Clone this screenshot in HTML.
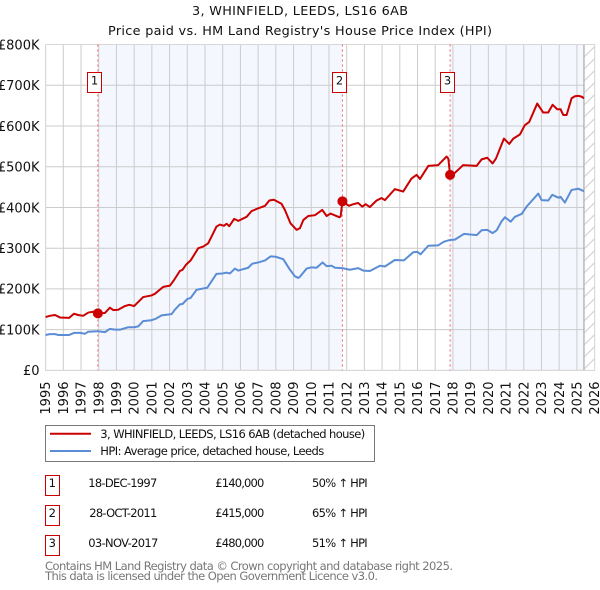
<!DOCTYPE html>
<html lang="en">
<head>
<meta charset="utf-8">
<title>3, WHINFIELD, LEEDS, LS16 6AB</title>
<style>
html,body{margin:0;padding:0;background:#fff;width:600px;height:590px;overflow:hidden}
svg{display:block}
text{font-family:"DejaVu Sans","Liberation Sans",sans-serif;fill:#111}
</style>
</head>
<body>
<svg id="chart" xmlns="http://www.w3.org/2000/svg" width="600" height="590" viewBox="0 0 600 590">
  <defs>
    <pattern id="hatch" patternUnits="userSpaceOnUse" width="12" height="12" x="584.7" y="44.5">
      <line x1="0" y1="12" x2="12" y2="0" stroke="#ccc" stroke-width="1"/>
    </pattern>
  </defs>
  <text x="300" y="15" text-anchor="middle" font-size="12.8" textLength="216" lengthAdjust="spacing">3, WHINFIELD, LEEDS, LS16 6AB</text>
  <text x="300" y="35" text-anchor="middle" font-size="12.8" textLength="384" lengthAdjust="spacing">Price paid vs. HM Land Registry's House Price Index (HPI)</text>
  <g id="bands"></g>
  <g id="grid"></g>
  <g id="forecast"></g>
  <g id="series"></g>
  <g id="sales"></g>
  <g id="ticks"></g>

  <g>
    <rect x="45.5" y="425.5" width="329" height="36" fill="#fff" stroke="#777" stroke-width="1"/>
    <line x1="50" y1="433.7" x2="91" y2="433.7" stroke="#cc0000" stroke-width="2"/>
    <text x="100.3" y="438" font-size="11.5" textLength="265" lengthAdjust="spacing">3, WHINFIELD, LEEDS, LS16 6AB (detached house)</text>
    <line x1="50" y1="451" x2="91" y2="451" stroke="#5b8dd6" stroke-width="2"/>
    <text x="100.3" y="455" font-size="11.5" textLength="224" lengthAdjust="spacing">HPI: Average price, detached house, Leeds</text>
  </g>

  <g>
    <rect x="45.5" y="475.5" width="14" height="20" fill="#fff" stroke="#cc0000"/>
    <text x="52.3" y="487" font-size="11.5" text-anchor="middle">1</text>
    <text x="88.3" y="487" font-size="11.5" textLength="69" lengthAdjust="spacing">18-DEC-1997</text>
    <text x="215.3" y="487" font-size="11.5" textLength="49" lengthAdjust="spacing">£140,000</text>
    <text x="312" y="487" font-size="11.5" textLength="55.7" lengthAdjust="spacing">50% ↑ HPI</text>

    <rect x="45.5" y="505.5" width="14" height="20" fill="#fff" stroke="#cc0000"/>
    <text x="52.3" y="517" font-size="11.5" text-anchor="middle">2</text>
    <text x="89.3" y="517" font-size="11.5" textLength="68" lengthAdjust="spacing">28-OCT-2011</text>
    <text x="215.3" y="517" font-size="11.5" textLength="49" lengthAdjust="spacing">£415,000</text>
    <text x="312" y="517" font-size="11.5" textLength="55.7" lengthAdjust="spacing">65% ↑ HPI</text>

    <rect x="45.5" y="535.5" width="14" height="20" fill="#fff" stroke="#cc0000"/>
    <text x="52.3" y="547" font-size="11.5" text-anchor="middle">3</text>
    <text x="88.3" y="547" font-size="11.5" textLength="70" lengthAdjust="spacing">03-NOV-2017</text>
    <text x="215.3" y="547" font-size="11.5" textLength="49" lengthAdjust="spacing">£480,000</text>
    <text x="312" y="547" font-size="11.5" textLength="55.7" lengthAdjust="spacing">51% ↑ HPI</text>
  </g>

  <text x="45" y="570" font-size="11.5" style="fill:#777" textLength="408" lengthAdjust="spacing">Contains HM Land Registry data © Crown copyright and database right 2025.</text>
  <text x="45" y="580" font-size="11.5" style="fill:#777" textLength="333" lengthAdjust="spacing">This data is licensed under the Open Government Licence v3.0.</text>
</svg>
<script>
const yearTicks = [1995,1996,1997,1998,1999,2000,2001,2002,2003,2004,2005,2006,2007,2008,2009,2010,2011,2012,2013,2014,2015,2016,2017,2018,2019,2020,2021,2022,2023,2024,2025,2026];
const priceTicks = [0,100,200,300,400,500,600,700,800];
const priceTickLabels = ["£0","£100K","£200K","£300K","£400K","£500K","£600K","£700K","£800K"];
const saleNumbers = ["1","2","3"];
const saleYears = [1997.95,2011.76,2017.84];
const salePrices = [140,415,480];
const lastDataYear = 2025.4;

const propertyYears = [1995,1995.24,1995.53,1995.81,1996.33,1996.6,1996.84,1997.12,1997.41,1997.69,1997.96,1998.35,1998.63,1998.82,1999.1,1999.48,1999.72,2000,2000.51,2000.98,2001.17,2001.64,2002.02,2002.24,2002.58,2002.73,2002.92,2003.19,2003.62,2003.9,2004.18,2004.65,2004.84,2005.07,2005.22,2005.37,2005.65,2005.88,2006.35,2006.63,2007.01,2007.39,2007.63,2007.89,2008.32,2008.51,2008.83,2009.17,2009.36,2009.55,2009.83,2010.21,2010.62,2010.87,2011.09,2011.58,2011.66,2011.76,2012.13,2012.37,2012.65,2012.88,2013.07,2013.31,2013.69,2013.97,2014.16,2014.72,2015.19,2015.66,2015.95,2016.14,2016.61,2017.17,2017.64,2017.74,2017.84,2018.11,2018.58,2019.34,2019.62,2019.94,2020.24,2020.43,2020.88,2021.18,2021.41,2021.78,2022.06,2022.31,2022.76,2023.1,2023.38,2023.63,2023.89,2024.08,2024.23,2024.42,2024.7,2024.89,2025.08,2025.26,2025.4];
const propertyValues = [131,134,136,130,129,139,136,134,142,144,140,141,154,148,149,158,161,158,180,184,188,205,208,221,244,247,259,270,300,304,312,353,358,355,360,354,372,367,377,391,398,404,417,419,409,394,361,345,349,369,379,381,394,379,385,376,378,415,404,408,411,402,408,401,417,423,418,445,439,471,480,470,502,504,525,520,480,485,504,502,518,522,508,520,569,556,569,579,602,610,655,633,633,652,641,641,627,627,668,673,674,672,668];

const hpiYears = [1995,1995.24,1995.53,1995.71,1996.33,1996.6,1996.94,1997.22,1997.41,1997.94,1998.35,1998.63,1998.91,1999.2,1999.67,2000,2000.23,2000.51,2000.96,2001.23,2001.55,2002.11,2002.3,2002.58,2002.73,2003,2003.19,2003.53,2004.13,2004.65,2004.99,2005.22,2005.41,2005.69,2005.88,2006.44,2006.67,2007.01,2007.39,2007.71,2007.99,2008.42,2008.8,2009.08,2009.27,2009.36,2009.74,2010.02,2010.3,2010.64,2010.87,2011.15,2011.34,2011.75,2012.18,2012.65,2012.94,2013.31,2013.88,2014.16,2014.72,2015.23,2015.76,2015.99,2016.17,2016.61,2017.17,2017.49,2017.81,2018.11,2018.62,2019.34,2019.62,2019.94,2020.24,2020.47,2020.75,2020.94,2021.26,2021.5,2021.88,2022.16,2022.82,2023.01,2023.38,2023.61,2023.95,2024.08,2024.32,2024.7,2025.08,2025.4];
const hpiValues = [87,89,89,87,87,92,92,90,95,96,94,102,100,100,106,106,108,121,123,127,135,138,149,162,163,175,178,198,203,237,238,240,238,250,245,252,262,265,270,280,279,273,247,231,227,230,250,253,252,265,256,257,252,251,247,251,245,244,257,255,271,270,290,291,285,306,307,316,320,321,335,332,344,345,337,344,366,376,365,377,384,402,434,418,417,431,424,426,412,443,446,440];

const plotLeft = 45.6, plotRight = 594.6, plotTop = 44.5, plotBottom = 370.4;
const firstYear = 1995, finalYear = 2026, maxPrice = 800;
const NS = "http://www.w3.org/2000/svg";

function xScale(year) {
  return plotLeft + (year - firstYear) / (finalYear - firstYear) * (plotRight - plotLeft);
}
function yScale(value) {
  return plotBottom - value / maxPrice * (plotBottom - plotTop);
}
function make(parent, tag, attrs, text) {
  const el = document.createElementNS(NS, tag);
  for (const key in attrs) el.setAttribute(key, attrs[key]);
  if (text !== undefined) el.textContent = text;
  parent.appendChild(el);
  return el;
}
function linePath(xs, ys) {
  return xs.map((x, i) => (i ? "L" : "M") + xScale(x).toFixed(2) + " " + yScale(ys[i]).toFixed(2)).join("");
}

const bands = document.getElementById("bands");
const grid = document.getElementById("grid");
const forecast = document.getElementById("forecast");
const series = document.getElementById("series");
const sales = document.getElementById("sales");
const ticks = document.getElementById("ticks");

const bandA = make(bands, "rect", {x: xScale(saleYears[0]), y: plotTop, width: xScale(saleYears[1]) - xScale(saleYears[0]), height: plotBottom - plotTop, fill: "#f4f7fe"});


const bandB = make(bands, "rect", {x: xScale(saleYears[2]), y: plotTop, width: xScale(lastDataYear) - xScale(saleYears[2]), height: plotBottom - plotTop, fill: "#f4f7fe"});



yearTicks.forEach(function (year) {
  const x = xScale(year);
  const gridLine = make(grid, "line", {x1: x, y1: plotTop, x2: x, y2: plotBottom, stroke: "#cccccc", "stroke-width": 1});
  
  
  const label = make(ticks, "text", {x: 0, y: 0, "font-size": 13, "text-anchor": "end", transform: "translate(" + (x + 4.6) + " 381.5) rotate(-90)"}, String(year));
  
  
});

priceTicks.forEach(function (value, i) {
  const y = yScale(value);
  const gridLine = make(grid, "line", {x1: plotLeft, y1: y, x2: plotRight, y2: y, stroke: "#cccccc", "stroke-width": 1});
  
  
  const label = make(ticks, "text", {x: 39.5, y: y + 4.8, "font-size": 13, "text-anchor": "end"}, priceTickLabels[i]);
  
  
});

const hatch = make(forecast, "rect", {x: xScale(lastDataYear), y: plotTop, width: plotRight - xScale(lastDataYear), height: plotBottom - plotTop, fill: "#fff"});


const hatchFill = make(forecast, "rect", {x: xScale(lastDataYear), y: plotTop, width: plotRight - xScale(lastDataYear), height: plotBottom - plotTop, fill: "url(#hatch)"});


const lastLine = make(forecast, "line", {x1: xScale(lastDataYear), y1: plotTop, x2: xScale(lastDataYear), y2: plotBottom, stroke: "#999999", "stroke-width": 1});


const frame = make(forecast, "rect", {x: plotLeft, y: plotTop, width: plotRight - plotLeft, height: plotBottom - plotTop, fill: "none", stroke: "#d8d8d8", "stroke-width": 1});



saleYears.forEach(function (year) {
  const dash = make(series, "line", {x1: xScale(year), y1: plotTop, x2: xScale(year), y2: plotBottom, stroke: "#ee6666", "stroke-width": 1, "stroke-dasharray": "2 3"});
  
  
});

const hpiLine = make(series, "path", {d: linePath(hpiYears, hpiValues), fill: "none", stroke: "#5b8dd6", "stroke-width": 2, "stroke-linejoin": "round"});


const propertyLine = make(series, "path", {d: linePath(propertyYears, propertyValues), fill: "none", stroke: "#cc0000", "stroke-width": 2, "stroke-linejoin": "round"});



saleYears.forEach(function (year, i) {
  const x = xScale(year);
  const marker = make(sales, "circle", {cx: x, cy: yScale(salePrices[i]), r: 5, fill: "#cc0000"});
  
  
  const badge = make(sales, "rect", {x: Math.round(x - 10.4) + 0.5, y: 72.5, width: 14, height: 20, fill: "#fff", stroke: "#cc0000", "stroke-width": 1});
  
  
  const badgeText = make(sales, "text", {x: Math.round(x - 10.4) + 7.5, y: 84.5, "font-size": 11.5, "text-anchor": "middle"}, saleNumbers[i]);
  
  
});
</script>
</body>
</html>
